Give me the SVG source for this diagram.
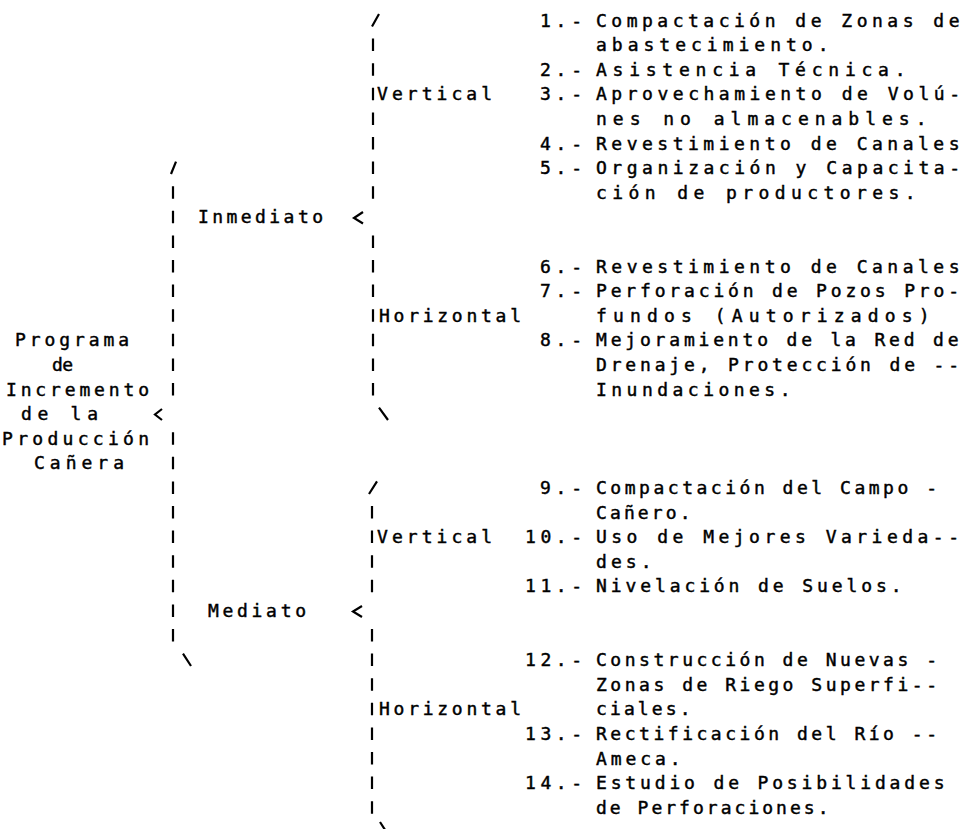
<svg xmlns="http://www.w3.org/2000/svg" width="963" height="829" viewBox="0 0 963 829">
<style>
text{font-family:"DejaVu Sans Mono","Liberation Mono",monospace;font-size:18px;fill:#000;stroke:#000;stroke-width:0.45}
.br{fill:none;stroke:#000;stroke-width:2.2;stroke-linecap:butt;stroke-linejoin:miter}
</style>
<rect width="963" height="829" fill="#fff"/>
<g id="connectors">
  <path class="br" d="M373 38.6V51.1M373 63.2V75.7M373 87.8V100.3M373 112.4V124.9M373 137V149.5M373 161.6V174.1M373 186.2V198.7M373 235.4V247.9M373 260V272.5M373 284.6V297.1M373 309.2V321.7M373 333.8V346.3M373 358.4V370.9M373 383V395.5"/>
  <path class="br" d="M379 14L372 26.5M363 212L354 218L363 223.5M379 407.6L388 420"/>
  <path class="br" d="M372 506V518.5M372 530.6V543.1M372 555.2V567.7M372 579.8V592.3M372 629V641.5M372 653.6V666.1M372 678.2V690.7M372 702.8V715.3M372 727.4V739.9M372 752V764.5M372 776.6V789.1M372 801.2V813.7"/>
  <path class="br" d="M377 481.4L369 494M362 606L353 611.5L362 617M380 822L389 836"/>
  <path class="br" d="M173 186.2V198.7M173 210.8V223.3M173 235.4V247.9M173 260V272.5M173 284.6V297.1M173 309.2V321.7M173 333.8V346.3M173 358.4V370.9M173 383V395.5M173 432.2V444.7M173 456.8V469.3M173 481.4V493.9M173 506V518.5M173 530.6V543.1M173 555.2V567.7M173 579.8V592.3M173 604.4V616.9M173 629V641.5"/>
  <path class="br" d="M176 161.6L171 174M162 409L155 414.5L162 420M183 653.6L191 666"/>
</g>
<g id="programa">
  <text x="15" y="346.3" textLength="114" lengthAdjust="spacing">Programa</text>
  <text x="52" y="370.9" textLength="21" lengthAdjust="spacing">de</text>
  <text x="6" y="395.5" textLength="143" lengthAdjust="spacing">Incremento</text>
  <text x="21" y="420.1" textLength="77" lengthAdjust="spacing">de la</text>
  <text x="2" y="444.7" textLength="147" lengthAdjust="spacing">Producción</text>
  <text x="34" y="469.3" textLength="90" lengthAdjust="spacing">Cañera</text>
</g>
<g id="inmediato"><text x="198" y="223.3" textLength="125" lengthAdjust="spacing">Inmediato</text></g>
<g id="mediato"><text x="208" y="616.9" textLength="98" lengthAdjust="spacing">Mediato</text></g>
<g id="inmediato-vertical"><text x="377" y="100.3" textLength="115" lengthAdjust="spacing">Vertical</text></g>
<g id="inmediato-horizontal"><text x="379" y="321.7" textLength="142" lengthAdjust="spacing">Horizontal</text></g>
<g id="mediato-vertical"><text x="377" y="543.1" textLength="115" lengthAdjust="spacing">Vertical</text></g>
<g id="mediato-horizontal"><text x="379" y="715.3" textLength="142" lengthAdjust="spacing">Horizontal</text></g>
<g id="item1">
  <text x="540" y="26.5" textLength="42" lengthAdjust="spacing">1.-</text>
  <text x="596" y="26.5" textLength="363.5" lengthAdjust="spacing">Compactación de Zonas de</text>
  <text x="596" y="51.1" textLength="232.5" lengthAdjust="spacing">abastecimiento.</text>
</g>
<g id="item2">
  <text x="540" y="75.7" textLength="42" lengthAdjust="spacing">2.-</text>
  <text x="596" y="75.7" textLength="309.5" lengthAdjust="spacing">Asistencia Técnica.</text>
</g>
<g id="item3">
  <text x="540" y="100.3" textLength="42" lengthAdjust="spacing">3.-</text>
  <text x="596" y="100.3" textLength="364" lengthAdjust="spacing">Aprovechamiento de Volú-</text>
  <text x="596" y="124.9" textLength="330.5" lengthAdjust="spacing">nes no almacenables.</text>
</g>
<g id="item4">
  <text x="540" y="149.5" textLength="42" lengthAdjust="spacing">4.-</text>
  <text x="596" y="149.5" textLength="363.5" lengthAdjust="spacing">Revestimiento de Canales</text>
</g>
<g id="item5">
  <text x="540" y="174.1" textLength="42" lengthAdjust="spacing">5.-</text>
  <text x="596" y="174.1" textLength="364" lengthAdjust="spacing">Organización y Capacita-</text>
  <text x="596" y="198.7" textLength="319.5" lengthAdjust="spacing">ción de productores.</text>
</g>
<g id="item6">
  <text x="540" y="272.5" textLength="42" lengthAdjust="spacing">6.-</text>
  <text x="596" y="272.5" textLength="363.5" lengthAdjust="spacing">Revestimiento de Canales</text>
</g>
<g id="item7">
  <text x="540" y="297.1" textLength="42" lengthAdjust="spacing">7.-</text>
  <text x="596" y="297.1" textLength="363" lengthAdjust="spacing">Perforación de Pozos Pro-</text>
  <text x="596" y="321.7" textLength="333.5" lengthAdjust="spacing">fundos (Autorizados)</text>
</g>
<g id="item8">
  <text x="540" y="346.3" textLength="42" lengthAdjust="spacing">8.-</text>
  <text x="596" y="346.3" textLength="362.5" lengthAdjust="spacing">Mejoramiento de la Red de</text>
  <text x="596" y="370.9" textLength="363" lengthAdjust="spacing">Drenaje, Protección de --</text>
  <text x="596" y="395.5" textLength="194.5" lengthAdjust="spacing">Inundaciones.</text>
</g>
<g id="item9">
  <text x="540" y="493.9" textLength="42" lengthAdjust="spacing">9.-</text>
  <text x="596" y="493.9" textLength="341" lengthAdjust="spacing">Compactación del Campo -</text>
  <text x="596" y="518.5" textLength="94.5" lengthAdjust="spacing">Cañero.</text>
</g>
<g id="item10">
  <text x="525" y="543.1" textLength="57" lengthAdjust="spacing">10.-</text>
  <text x="596" y="543.1" textLength="363" lengthAdjust="spacing">Uso de Mejores Varieda--</text>
  <text x="596" y="567.7" textLength="55.5" lengthAdjust="spacing">des.</text>
</g>
<g id="item11">
  <text x="525" y="592.3" textLength="57" lengthAdjust="spacing">11.-</text>
  <text x="596" y="592.3" textLength="305.5" lengthAdjust="spacing">Nivelación de Suelos.</text>
</g>
<g id="item12">
  <text x="525" y="666.1" textLength="57" lengthAdjust="spacing">12.-</text>
  <text x="596" y="666.1" textLength="341" lengthAdjust="spacing">Construcción de Nuevas -</text>
  <text x="596" y="690.7" textLength="341" lengthAdjust="spacing">Zonas de Riego Superfi--</text>
  <text x="596" y="715.3" textLength="94.5" lengthAdjust="spacing">ciales.</text>
</g>
<g id="item13">
  <text x="525" y="739.9" textLength="57" lengthAdjust="spacing">13.-</text>
  <text x="596" y="739.9" textLength="341" lengthAdjust="spacing">Rectificación del Río --</text>
  <text x="596" y="764.5" textLength="84.5" lengthAdjust="spacing">Ameca.</text>
</g>
<g id="item14">
  <text x="525" y="789.1" textLength="57" lengthAdjust="spacing">14.-</text>
  <text x="596" y="789.1" textLength="348.5" lengthAdjust="spacing">Estudio de Posibilidades</text>
  <text x="596" y="813.7" textLength="232.5" lengthAdjust="spacing">de Perforaciones.</text>
</g>
</svg>
